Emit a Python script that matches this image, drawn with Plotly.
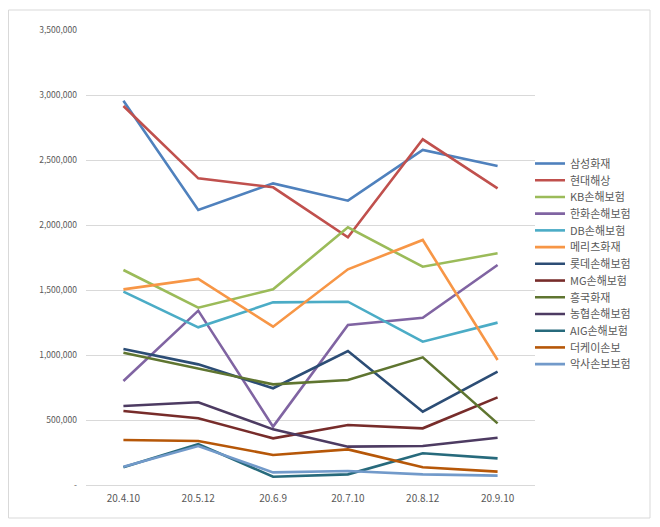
import plotly.graph_objects as go

categories = ["20.4.10", "20.5.12", "20.6.9", "20.7.10", "20.8.12", "20.9.10"]

series_names = ["삼성화재", "현대해상", "KB손해보험", "한화손해보험", "DB손해보험", "메리츠화재",
                "롯데손해보험", "MG손해보험", "흥국화재", "농협손해보험", "AIG손해보험", "더케이손보", "악사손보보험"]

samsung = [2956000, 2115000, 2320000, 2187000, 2577000, 2454000]
hyundai = [2915000, 2359000, 2290000, 1905000, 2659000, 2282000]
kb = [1654000, 1364000, 1505000, 1982000, 1679000, 1782000]
hanwha = [800000, 1341000, 449000, 1231000, 1287000, 1692000]
db = [1487000, 1213000, 1405000, 1410000, 1102000, 1249000]
meritz = [1505000, 1585000, 1218000, 1659000, 1885000, 962000]
lotte = [1046000, 928000, 744000, 1031000, 564000, 872000]
mg = [569000, 513000, 359000, 462000, 436000, 674000]
heungkuk = [1018000, 897000, 774000, 808000, 982000, 474000]
nonghyup = [608000, 636000, 428000, 295000, 300000, 364000]
aig = [136000, 315000, 64000, 82000, 244000, 205000]
thek = [346000, 338000, 231000, 274000, 136000, 103000]
axa = [141000, 300000, 97000, 108000, 82000, 72000]

series_values = [samsung, hyundai, kb, hanwha, db, meritz, lotte, mg, heungkuk, nonghyup, aig, thek, axa]
colors = ["#4F81BD", "#C0504D", "#9BBB59", "#8064A2", "#4BACC6", "#F79646",
          "#2C4D75", "#772C2A", "#5F7530", "#4D3B62", "#276A7C", "#B65708", "#729ACA"]

tick_vals = [0, 500000, 1000000, 1500000, 2000000, 2500000, 3000000, 3500000]
tick_text = ["-", "500,000", "1,000,000", "1,500,000", "2,000,000", "2,500,000", "3,000,000", "3,500,000"]

# page body has an 8px margin; work in page pixels and convert
OFF = 8
W, H = 644, 511
pl, pr, pt, pb = 86, 535, 30, 485  # plot area in page pixels
ml = pl - OFF
mt = pt - OFF
mr = W - (pr - OFF)
mb = H - (pb - OFF)
pw = pr - pl
ph = pb - pt

def px_to_paper_x(px):
    return (px - pl) / pw

def px_to_paper_y(py):
    return (pb - py) / ph

LEG_TOP = 149
LEG_STEP = 16.72

fig = go.Figure()
legend_layouts = {}
for i, (name, vals, col) in enumerate(zip(series_names, series_values, colors)):
    lid = "legend" if i == 0 else f"legend{i + 1}"
    fig.add_trace(go.Scatter(x=categories, y=vals, name=name, mode="lines",
                             line=dict(color=col, width=2.6), legend=lid))
    legend_layouts[lid] = dict(x=px_to_paper_x(530), y=px_to_paper_y(LEG_TOP + i * LEG_STEP),
                               xanchor="left", yanchor="top",
                               font=dict(size=11, color="#595959"), itemwidth=30,
                               bgcolor="rgba(0,0,0,0)", tracegroupgap=0)

fig.update_layout(
    width=W, height=H,
    margin=dict(l=ml, r=mr, t=mt, b=mb),
    paper_bgcolor="white", plot_bgcolor="white",
    font=dict(family="Noto Sans CJK KR, Noto Sans, sans-serif", color="#595959"),
    showlegend=True,
    xaxis=dict(type="category", showgrid=False, showline=True, linecolor="#d9d9d9",
               linewidth=1, ticks="", tickfont=dict(size=10, color="#595959"),
               range=[-0.5, 5.5], ticklabelstandoff=4),
    yaxis=dict(range=[0, 3500000], tickvals=tick_vals, ticktext=tick_text,
               showgrid=True, gridcolor="#d9d9d9", gridwidth=1, zeroline=False,
               showline=False, tickfont=dict(size=8.5, color="#595959"), ticks="",
               ticklabelstandoff=8),
    shapes=[dict(type="rect", xref="paper", yref="paper",
                 x0=px_to_paper_x(8.5), x1=px_to_paper_x(650),
                 y0=px_to_paper_y(518), y1=px_to_paper_y(10),
                 line=dict(color="#d9d9d9", width=1), fillcolor="rgba(0,0,0,0)", layer="below")],
    **legend_layouts,
)

fig.write_html("out.html")
